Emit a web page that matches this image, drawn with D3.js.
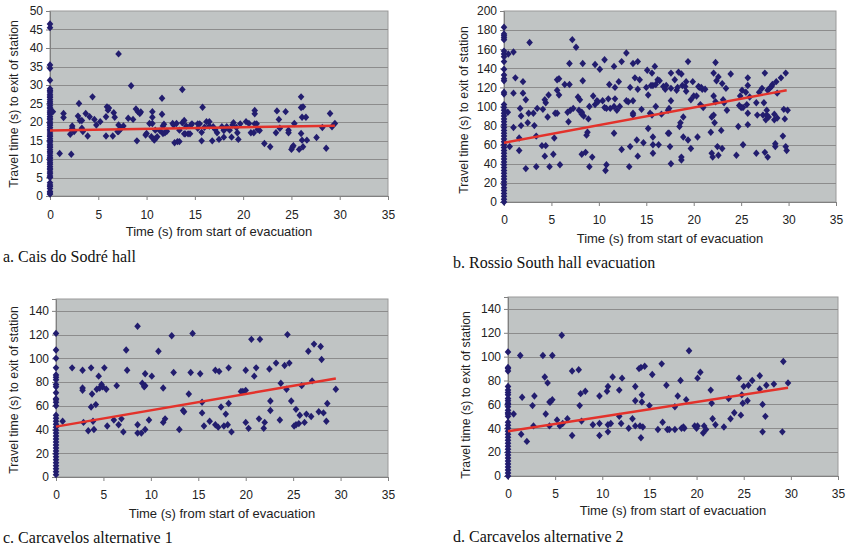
<!DOCTYPE html>
<html><head><meta charset="utf-8">
<script src="https://cdn.jsdelivr.net/npm/d3@7"></script>
<style>
html,body{margin:0;padding:0;background:#fff;}
svg{display:block;}
</style></head>
<body>
<svg id="chart" width="846" height="546"></svg>
<script>
// ---------- DATA ----------
const xTicks = [0,5,10,15,20,25,30,35];
const yTicksA = [0,5,10,15,20,25,30,35,40,45,50];
const yTicksB = [0,20,40,60,80,100,120,140,160,180,200];
const yTicksC = [0,20,40,60,80,100,120,140];
const yTicksD = [0,20,40,60,80,100,120,140];

const captionA = "a. Cais do Sodré hall";
const captionB = "b. Rossio South hall evacuation";
const captionC = "c. Carcavelos alternative 1";
const captionD = "d. Carcavelos alternative 2";
const xTitle = "Time (s) from start of evacuation";
const yTitle = "Travel time (s) to exit of station";

// travel times of people already moving at t = 0
const zeroA = [0.5,0.8,1.2,2.0,2.6,3.0,3.6,5.0,5.4,6.0,6.5,7.1,7.5,8.0,8.6,9.0,9.5,10.1,10.5,11.0,11.6,12.0,12.5,13.1,13.5,14.0,14.6,15.0,15.5,16.1,16.5,17.0,17.6,18.0,18.5,19.1,19.5,20.0,20.6,21.0,21.5,22.1,22.5,23.0,23.6,24.0,24.5,25.1,25.5,26.0,26.6,27.0,27.5,28.1,28.5,29.0,31.3,34.5,35.4,45.5,46.5];
const zeroB = [0,3,6,9,12,15,18,21,24,27,30,33,36,39,42,45,48,51,54,57,60,63,66,69,72,75,78,81,84,87,90,93,96,99,102,113,115,127,129,133,139,147,152,155,158,170,172,174,176,183];
const zeroC = [2,4.5,7,9.5,12,14.5,17,19.5,22,24.5,27,29.5,32,34.5,37,39.5,42,44.5,47,49.5,52,60,63,65,66,71,76,78,82,84,86,92,100,107,121];
const zeroD = [0,2.5,5,7.5,10,12.5,15,17.5,20,22.5,25,27.5,30,32.5,35,37.5,40,42.5,45,50,52,53,55,58,60,61,63,65,68,70,72,75,88,90,91,104];

const pointsA = [[0.3,22.8],[1.0,11.5],[1.4,22.3],[1.4,21.2],[2.1,16.7],[2.2,11.3],[2.3,18.9],[2.3,18.3],[2.5,17.4],[2.9,21.6],[3.0,25.0],[3.1,20.4],[3.3,20.4],[3.3,18.3],[3.4,17.4],[3.7,22.3],[3.9,16.2],[4.1,21.4],[4.4,26.8],[4.6,20.7],[4.8,19.2],[5.2,20.1],[5.8,16.2],[5.8,21.4],[5.9,24.1],[6.0,23.2],[6.1,23.8],[6.5,16.2],[6.6,22.5],[6.7,21.3],[7.1,38.4],[7.0,17.4],[7.1,17.4],[7.1,19.2],[7.4,18.3],[7.6,18.9],[8.1,21.0],[8.4,29.8],[8.6,20.7],[8.9,23.5],[9.0,14.9],[9.1,22.8],[9.3,22.3],[9.4,22.7],[9.9,16.5],[10.0,16.9],[10.3,19.6],[10.5,16.0],[10.6,22.8],[10.6,21.3],[10.6,19.6],[10.8,15.1],[10.9,15.5],[10.9,17.8],[11.1,16.0],[11.4,17.6],[11.6,26.4],[11.6,22.1],[11.7,18.9],[11.8,19.4],[11.7,16.9],[11.9,17.1],[12.1,17.5],[12.7,19.6],[12.8,19.2],[12.9,14.4],[13.2,14.7],[13.4,14.7],[13.1,19.6],[13.4,17.8],[13.7,19.8],[13.7,28.8],[13.9,20.4],[13.9,16.8],[14.0,16.8],[14.1,18.9],[14.3,16.8],[14.5,16.8],[14.6,19.2],[14.7,19.5],[15.3,19.5],[15.5,19.5],[15.3,18.3],[15.7,17.2],[15.7,14.9],[15.8,24.0],[16.0,18.6],[16.2,20.1],[16.5,20.1],[16.5,18.9],[16.8,14.9],[16.9,18.7],[17.1,18.0],[17.3,17.1],[17.5,15.3],[17.8,18.7],[18.0,15.9],[18.0,17.7],[18.3,18.7],[18.6,17.8],[18.8,15.9],[18.9,19.2],[19.0,19.8],[19.3,18.5],[19.4,17.1],[19.5,15.3],[19.7,19.5],[20.3,20.1],[20.6,19.6],[20.8,17.1],[21.1,17.1],[21.2,23.1],[21.2,22.2],[21.2,19.5],[21.4,19.5],[21.5,18.0],[21.7,17.7],[22.2,14.2],[22.8,13.3],[23.4,17.1],[23.5,23.0],[23.7,20.7],[23.8,18.3],[24.4,22.8],[24.7,17.8],[24.7,17.1],[25.0,12.6],[25.1,13.2],[25.2,13.6],[25.3,19.6],[25.8,12.6],[26.0,26.8],[26.0,23.9],[26.2,24.1],[26.0,16.9],[26.1,21.3],[26.5,21.3],[26.1,15.1],[26.6,15.1],[26.2,13.3],[27.6,15.8],[28.2,18.5],[28.6,12.9],[29.0,22.3],[29.2,18.7],[29.5,19.6]];

const pointsB = [[0.4,94],[0.45,155],[1.0,157],[1.2,130],[1.0,114],[1.0,78],[0.6,58],[1.6,54],[1.6,67],[1.7,98],[1.8,80],[1.8,90],[2.0,126],[2.0,114],[2.3,107],[2.3,35],[2.5,83],[2.6,93],[2.7,167],[3.1,93],[3.2,80],[3.4,69],[3.4,37],[3.5,98],[4.0,59],[4.3,48],[4.3,107],[4.4,104],[4.1,97],[4.4,59],[4.7,112],[4.6,89],[4.8,37],[5.2,50],[5.4,93],[5.3,67],[5.6,93],[5.6,117],[5.6,128],[5.8,129],[5.9,39],[5.8,112],[6.4,123],[6.9,123],[6.7,94],[6.8,84],[6.9,145],[7.2,170],[7.0,96],[7.3,98],[7.6,162],[7.8,110],[7.9,96],[8.0,107],[8.2,94],[8.3,145],[8.3,127],[8.2,50],[8.2,92],[8.4,90],[8.6,52],[8.8,73],[8.7,70],[8.9,87],[9.0,100],[9.0,37],[9.4,111],[9.3,47],[9.6,144],[9.6,102],[9.8,106],[9.9,105],[10.1,139],[10.4,106],[10.6,149],[10.7,33],[10.8,39],[10.6,99],[10.8,98],[11.0,108],[11.1,123],[11.2,98],[11.6,72],[11.6,100],[11.7,108],[11.7,120],[11.6,142],[11.9,96],[12.1,126],[12.2,100],[12.4,147],[12.4,55],[12.9,156],[12.9,106],[13.1,105],[13.2,37],[13.3,58],[13.3,120],[13.6,106],[13.6,93],[13.6,91],[13.6,145],[13.8,130],[14.0,65],[14.1,48],[14.1,147],[14.1,118],[14.3,128],[14.5,97],[14.7,62],[15.0,120],[15.1,138],[15.2,77],[15.2,112],[15.4,93],[15.5,122],[15.6,135],[15.6,91],[15.7,60],[15.7,68],[15.7,51],[15.7,122],[15.9,142],[16.0,123],[16.0,100],[16.2,128],[16.3,60],[16.4,127],[16.6,92],[16.8,121],[17.0,118],[17.1,122],[17.3,72],[17.3,96],[17.4,72],[17.4,98],[17.5,58],[17.6,119],[17.6,135],[17.6,106],[17.6,40],[18.0,128],[18.2,117],[18.3,120],[18.4,136],[18.5,79],[18.6,83],[18.7,134],[18.8,122],[18.7,44],[18.7,47],[18.9,89],[18.9,68],[19.1,121],[19.2,116],[19.2,126],[19.4,147],[19.4,65],[19.7,107],[19.7,56],[19.9,126],[20.0,111],[20.3,111],[20.4,68],[20.5,121],[20.6,120],[20.7,102],[20.8,120],[20.9,118],[21.0,99],[21.2,118],[21.8,73],[21.9,51],[21.9,89],[22.0,47],[22.1,91],[22.1,135],[22.1,111],[22.2,83],[22.3,105],[22.3,146],[22.4,127],[22.5,58],[22.6,49],[22.6,131],[22.9,75],[23.0,56],[23.0,124],[23.1,107],[23.2,104],[23.4,119],[23.5,96],[23.9,134],[24.5,49],[24.7,79],[24.8,101],[24.9,111],[25.0,99],[25.1,117],[25.2,60],[25.2,99],[25.5,115],[25.6,102],[25.7,93],[25.7,122],[25.7,130],[25.7,81],[25.9,110],[26.6,51],[26.6,104],[26.7,91],[26.9,115],[27.2,119],[27.3,91],[27.4,104],[27.5,135],[27.5,52],[27.6,86],[27.7,91],[27.7,96],[27.8,117],[27.8,47],[27.9,89],[28.0,119],[28.2,121],[28.3,123],[28.5,92],[28.5,86],[28.6,58],[28.6,61],[28.7,126],[28.8,88],[28.8,114],[29.2,130],[29.4,69],[29.5,97],[29.6,87],[29.7,135],[29.7,58],[29.8,54],[29.9,96]];

const pointsC = [[0.7,47],[1.7,92],[2.8,90],[2.8,75],[2.8,73],[2.9,46],[3.4,39],[3.7,92],[3.8,70],[3.7,59],[3.9,47],[4.0,40],[4.2,61],[4.3,74],[4.5,85],[4.6,75],[4.8,78],[4.9,76],[5.1,92],[5.3,74],[5.4,43],[6.1,48],[6.4,77],[6.6,44],[6.9,49],[7.1,38],[7.4,107],[7.5,90],[8.6,127],[8.6,44],[8.6,37],[9.0,37],[9.1,79],[9.3,76],[9.4,77],[9.4,87],[9.4,40],[9.8,48],[10.1,85],[10.8,106],[11.3,75],[11.3,46],[11.5,49],[12.2,119],[12.4,88],[13.0,40],[13.4,56],[13.5,55],[14.0,70],[14.2,88],[14.4,121],[15.2,87],[15.4,63],[15.4,54],[15.6,43],[16.2,47],[16.8,90],[16.8,44],[17.1,42],[17.2,89],[17.4,59],[17.7,43],[17.9,53],[18.1,44],[18.2,92],[18.2,62],[18.5,38],[19.5,72],[19.7,72],[20.0,73],[20.0,90],[20.0,46],[20.3,41],[20.6,116],[20.9,85],[21.1,92],[21.4,49],[21.5,116],[22.0,46],[21.9,41],[22.5,91],[22.6,56],[22.6,64],[23.2,96],[23.6,48],[23.7,79],[24.1,94],[24.3,74],[24.4,120],[24.6,96],[24.8,64],[25.1,43],[25.3,44],[25.6,45],[25.3,57],[25.7,52],[25.9,77],[26.2,46],[26.4,53],[26.6,106],[26.9,51],[27.0,81],[27.2,112],[27.7,55],[27.9,110],[28.0,99],[28.2,54],[28.5,47],[28.6,62],[29.5,74]];

const pointsD = [[0.6,52],[1.4,35],[1.3,101],[1.5,66],[2.0,29],[2.6,59],[2.7,42],[2.8,67],[3.7,101],[3.9,83],[4.0,52],[4.2,78],[4.4,62],[4.5,62],[4.4,42],[4.7,101],[4.7,64],[5.2,47],[5.5,42],[5.7,118],[5.8,44],[6.3,48],[6.8,88],[6.8,34],[7.5,89],[7.6,59],[7.7,69],[7.8,46],[8.2,71],[9.0,43],[9.7,67],[9.7,34],[9.7,44],[10.5,71],[10.6,75],[10.6,43],[10.6,37],[10.9,44],[11.1,83],[11.8,50],[11.8,72],[12.0,44],[12.1,82],[12.8,40],[13.2,48],[13.5,75],[13.5,63],[13.5,42],[13.9,90],[14.0,42],[14.1,32],[14.1,91],[14.2,68],[14.2,62],[14.3,41],[14.5,92],[15.0,59],[15.3,85],[15.9,39],[16.3,94],[16.4,45],[16.8,76],[16.9,39],[17.1,39],[17.7,58],[17.7,39],[18.0,67],[18.3,80],[18.4,40],[18.6,41],[18.7,40],[18.9,64],[19.2,105],[19.8,42],[20.0,40],[20.1,42],[20.1,82],[20.4,87],[20.7,36],[20.8,42],[21.0,39],[21.5,72],[21.6,61],[21.7,48],[22.0,43],[22.9,41],[23.4,65],[23.6,48],[24.0,53],[24.5,82],[24.7,51],[24.8,68],[24.9,61],[25.0,75],[25.4,63],[25.5,76],[25.9,80],[26.7,84],[26.7,73],[27.0,60],[27.0,37],[27.3,50],[27.4,76],[28.2,77],[29.1,37],[29.2,96],[29.7,78]];

// linear trend lines (start, end)
const trendA = [[0,17.7],[29.5,19.0]];
const trendB = [[0,62],[29.8,117]];
const trendC = [[0,42.5],[29.5,83]];
const trendD = [[0,37.5],[29.7,74]];

// ---------- DRAW ----------
const svg = d3.select("#chart");
const FONT = "Arial, 'Liberation Sans', sans-serif";

function drawPanel(cfg){
  const x = d3.scaleLinear().domain([0,35]).range([cfg.left, cfg.left+cfg.w]);
  const y = d3.scaleLinear().domain([0,cfg.yMax]).range([cfg.top+cfg.h, cfg.top]);
  const g = svg.append("g");

  g.append("rect").attr("x",cfg.left).attr("y",cfg.top).attr("width",cfg.w).attr("height",cfg.h)
    .attr("fill","#c0c4c4").attr("stroke","#9a9a9a").attr("stroke-width",1);

  // gridlines
  g.append("g").selectAll("line").data(cfg.yTicks.filter(d=>d>0 && d<cfg.yMax)).join("line")
    .attr("x1",cfg.left).attr("x2",cfg.left+cfg.w)
    .attr("y1",d=>Math.round(y(d))+0.5).attr("y2",d=>Math.round(y(d))+0.5)
    .attr("stroke","#8c8c8c").attr("stroke-width",1);

  // y axis
  const ya = g.append("g").attr("transform",`translate(${cfg.left},0)`)
    .call(d3.axisLeft(y).tickValues(cfg.yTicks).tickSize(4).tickPadding(3).tickFormat(d3.format("d")));
  ya.select(".domain").attr("stroke","#808080");
  ya.selectAll(".tick line").attr("stroke","#808080");
  ya.selectAll("text").attr("font-family",FONT).attr("font-size",12).attr("fill","#222");

  // x axis
  const xa = g.append("g").attr("transform",`translate(0,${cfg.top+cfg.h})`)
    .call(d3.axisBottom(x).tickValues(xTicks).tickSize(4).tickPadding(cfg.xPad));
  xa.select(".domain").attr("stroke","#808080");
  xa.selectAll(".tick line").attr("stroke","#808080");
  xa.selectAll("text").attr("font-family",FONT).attr("font-size",12).attr("fill","#222");

  // titles
  g.append("text").attr("x",cfg.left+cfg.w/2 + cfg.xtDx).attr("y",cfg.xtY)
    .attr("text-anchor","middle").attr("dominant-baseline","middle")
    .attr("font-family",FONT).attr("font-size",13).attr("fill","#222").text(xTitle);
  g.append("text").attr("transform",`translate(${cfg.ytX},${cfg.ytY}) rotate(-90)`)
    .attr("text-anchor","middle").attr("dominant-baseline","middle")
    .attr("font-family",FONT).attr("font-size",12.3).attr("fill","#222").text(yTitle);
  g.append("text").attr("x",cfg.capX).attr("y",cfg.capY)
    .attr("font-family","'Liberation Serif','Times New Roman',serif").attr("font-size",16).attr("fill","#111").text(cfg.caption);

  // points
  const all = cfg.zero.map(v=>[0,v]).concat(cfg.pts);
  const diamond = "M0,-3.7L3.3,0L0,3.7L-3.3,0Z";
  g.append("g").selectAll("path").data(all).join("path")
    .attr("d",diamond)
    .attr("transform",d=>`translate(${x(d[0])},${y(d[1])})`)
    .attr("fill","#221d6e");

  // trend
  g.append("path").datum(cfg.trend)
    .attr("d",d3.line().x(d=>x(d[0])).y(d=>y(d[1])))
    .attr("fill","none").attr("stroke","#e3322b").attr("stroke-width",2.4);
}

drawPanel({left:50, top:11, w:338, h:185, yMax:50, yTicks:yTicksA, zero:zeroA, pts:pointsA, trend:trendA,
  xPad:10, xtY:233, xtDx:0, ytX:15, ytY:104, capX:3, capY:262, caption:captionA});
drawPanel({left:504, top:11, w:332, h:191, yMax:200, yTicks:yTicksB, zero:zeroB, pts:pointsB, trend:trendB,
  xPad:9, xtY:240, xtDx:0, ytX:465, ytY:110, capX:453, capY:268, caption:captionB});
drawPanel({left:56, top:299, w:332, h:178, yMax:150, yTicks:yTicksC, zero:zeroC, pts:pointsC, trend:trendC,
  xPad:9, xtY:515, xtDx:0, ytX:15, ytY:390, capX:3, capY:543, caption:captionC});
drawPanel({left:508, top:297, w:330, h:179, yMax:150, yTicks:yTicksD, zero:zeroD, pts:pointsD, trend:trendD,
  xPad:9, xtY:512, xtDx:0, ytX:467, ytY:395, capX:453, capY:542, caption:captionD});
</script>
</body></html>
